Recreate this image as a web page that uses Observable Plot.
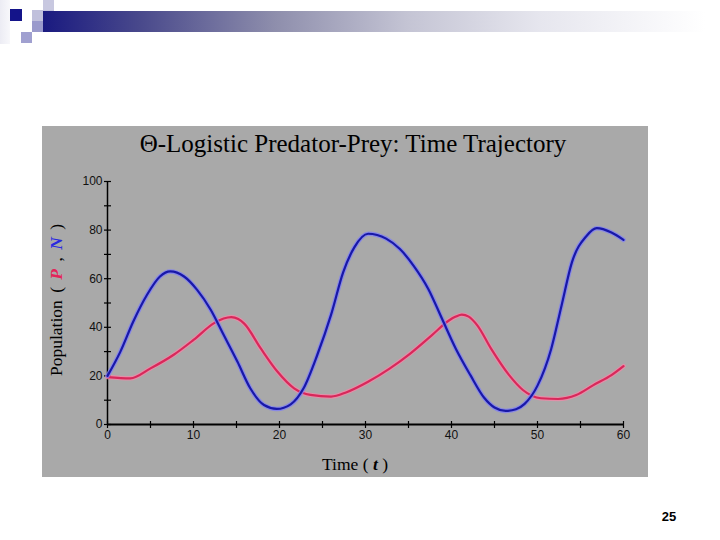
<!DOCTYPE html>
<html><head><meta charset="utf-8">
<script src="https://cdn.jsdelivr.net/npm/d3@7"></script>
<script src="https://cdn.jsdelivr.net/npm/@observablehq/plot@0.6"></script>
<style>
body{margin:0;background:#fff;}
#slide{position:relative;width:720px;height:540px;overflow:hidden;background:#fff;font-family:"Liberation Serif",serif;}
.abs{position:absolute;white-space:nowrap;line-height:1;}
#chart{position:absolute;left:42px;top:126px;}
#chart svg{display:block;}
</style></head><body>
<div id="slide">
  <div class="abs" style="left:0;top:0;width:10px;height:44px;background:linear-gradient(to right,#ececf4,#f8f8fb);"></div>
  <div class="abs" style="left:43px;top:0;width:11px;height:11px;background:#c8c8e0;"></div>
  <div class="abs" style="left:10px;top:9px;width:12px;height:12px;background:#14148a;"></div>
  <div class="abs" style="left:32px;top:10px;width:22px;height:11px;background:#c0c0dc;"></div>
  <div class="abs" style="left:32px;top:21px;width:11px;height:11px;background:#9a9acc;"></div>
  <div class="abs" style="left:21px;top:32px;width:11px;height:11px;background:#a0a0d0;"></div>
  <div class="abs" style="left:43px;top:11px;width:662px;height:21px;background:linear-gradient(to right,#1a1a80 0%,#4a4a8c 15%,#8e8eac 35%,#c4c4d4 55%,#e6e6ee 75%,#ffffff 100%);"></div>
  <div id="chart"></div>
  <div class="abs" style="left:42px;width:622px;top:131px;text-align:center;font-size:25px;color:#000;">Θ-Logistic Predator-Prey: Time Trajectory</div>
  <div class="abs" style="left:57px;top:300px;transform:translate(-50%,-50%) rotate(-90deg);font-size:17.5px;word-spacing:3px;color:#000;">Population ( <b><i style="color:#e4245a">P</i></b> , <b><i style="color:#2a2ae0">N</i></b> )</div>
  <div class="abs" style="left:355px;top:456px;transform:translateX(-50%);font-size:17.5px;color:#000;">Time ( <b><i>t</i></b> )</div>
  <div class="abs" style="left:669px;top:510px;transform:translateX(-50%);font-family:'Liberation Sans',sans-serif;font-weight:bold;font-size:13px;color:#000;">25</div>
</div>
<script>
// Prey N (blue)
const timeN = [0, 1.5, 3.0, 4.6, 6.1, 7.3, 8.9, 10.4, 12.0, 13.5, 15.1, 16.6, 18.2, 19.7, 21.3, 22.8, 24.4, 26.0, 27.4, 28.7, 30.3, 32.4, 34.0, 35.6, 37.3, 38.9, 40.5, 42.2, 43.8, 45.0, 46.3, 47.5, 48.5, 50.0, 51.6, 52.8, 54.0, 55.7, 56.9, 58.6, 60];
const preyN = [20, 30, 42.4, 53.4, 60.9, 63, 60.9, 55.5, 47.2, 36.9, 25.9, 14.9, 8.0, 6.4, 8.3, 14.9, 28.7, 45.2, 62.6, 72.9, 78.5, 76.5, 72.2, 65.3, 55.8, 43.5, 31.2, 20.3, 11, 7, 5.6, 6.3, 8.5, 16, 31.2, 49, 66.7, 77.6, 80.8, 79, 76];
// Predator P (red)
const timeP = [0, 2.65, 5.0, 7.7, 10.0, 12.4, 13.5, 14.4, 15.2, 15.9, 17.8, 19.75, 21.7, 23.6, 26.0, 27.8, 30.3, 32.8, 35.2, 37.7, 39.7, 40.5, 41.2, 42.0, 43.0, 44.6, 46.7, 48.3, 50.4, 52.4, 54.5, 56.5, 58.6, 60];
const predP = [19.5, 19, 23.1, 28.7, 34.8, 41.7, 43.6, 44.2, 43.4, 41.5, 31.4, 21.8, 14.9, 12.2, 11.5, 13.3, 17.6, 23, 29.2, 36.7, 42.8, 44.4, 45.2, 44.4, 40.8, 31.2, 20.3, 14.2, 10.8, 10.5, 12.1, 16.2, 20.3, 24];

const xDomain = [0, 60];
const yDomain = [0, 100];
const yTicks = [0, 20, 40, 60, 80, 100];
const yMinor = [10, 30, 50, 70, 90];
const xTicks = [0, 10, 20, 30, 40, 50, 60];
const xMinor = [5, 15, 25, 35, 45, 55];

const prey = timeN.map((t, i) => ({t, v: preyN[i]}));
const pred = timeP.map((t, i) => ({t, v: predP[i]}));

const hTick = {draw(ctx) { ctx.moveTo(-3.5, 0); ctx.lineTo(3.5, 0); }};
const vTick = {draw(ctx) { ctx.moveTo(0, -3.5); ctx.lineTo(0, 3.5); }};

const chart = Plot.plot({
  width: 606, height: 351,
  marginLeft: 65, marginRight: 25, marginTop: 55, marginBottom: 53,
  style: {background: "#a9a9a9", fontFamily: "'Liberation Sans', Arial, sans-serif", fontSize: "12px", color: "#000"},
  x: {domain: xDomain},
  y: {domain: yDomain},
  marks: [
    Plot.ruleX([xDomain[0]], {y1: yDomain[0], y2: yDomain[1], stroke: "#000", strokeWidth: 1.5}),
    Plot.ruleY([yDomain[0]], {x1: xDomain[0], x2: xDomain[1], stroke: "#000", strokeWidth: 1.8}),
    Plot.dot([...yTicks, ...yMinor], {x: xDomain[0], y: d => d, symbol: hTick, stroke: "#000", strokeWidth: 1.2, fill: "none"}),
    Plot.dot([...xTicks, ...xMinor], {x: d => d, y: yDomain[0], symbol: vTick, stroke: "#000", strokeWidth: 1.2, fill: "none"}),
    Plot.axisY({ticks: yTicks, tickSize: 0, tickPadding: 5, label: null, fill: "#111"}),
    Plot.axisX({ticks: xTicks, tickSize: 0, tickPadding: 6, label: null, fill: "#111"}),
    Plot.line(pred, {x: "t", y: "v", stroke: "#f088a8", strokeWidth: 4.5, strokeOpacity: 0.8, curve: "monotone-x"}),
    Plot.line(pred, {x: "t", y: "v", stroke: "#d8285a", strokeWidth: 2.2, curve: "monotone-x"}),
    Plot.line(prey, {x: "t", y: "v", stroke: "#8080f4", strokeWidth: 4.5, strokeOpacity: 0.8, curve: "monotone-x"}),
    Plot.line(prey, {x: "t", y: "v", stroke: "#1818a8", strokeWidth: 2.2, curve: "monotone-x"})
  ]
});
document.getElementById("chart").appendChild(chart);
</script>
</body></html>
